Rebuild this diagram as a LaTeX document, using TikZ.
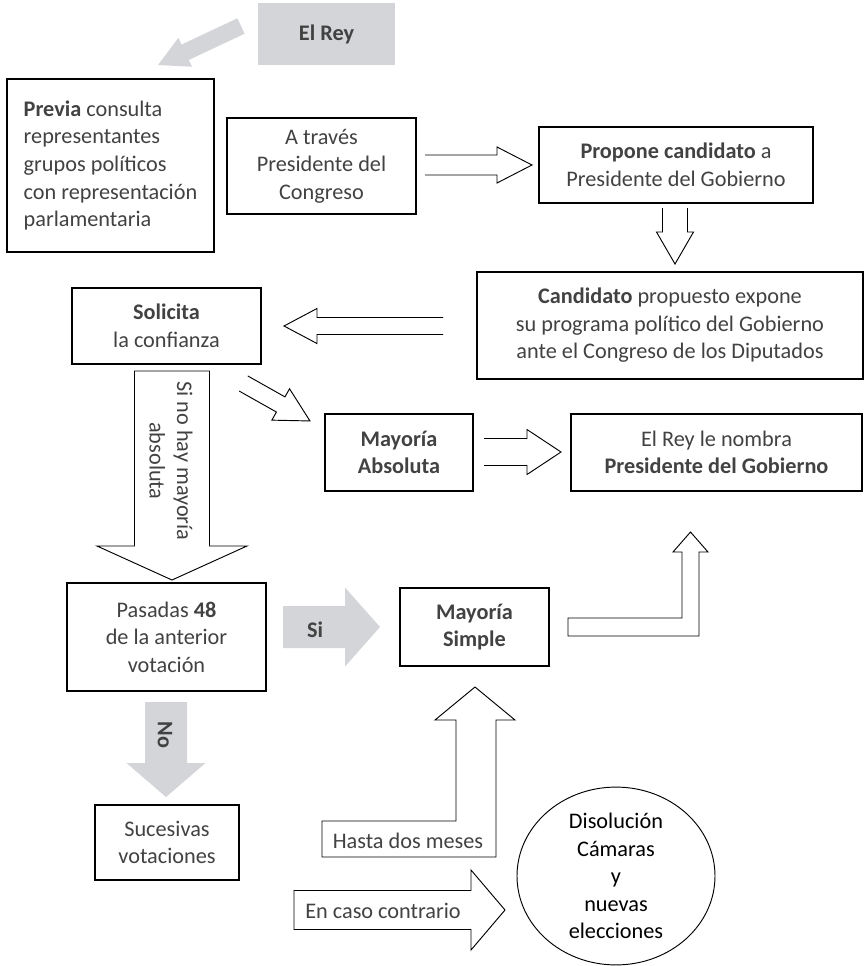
\documentclass[tikz,border=0pt]{standalone}
\usepackage{fontspec}
\setmainfont{Carlito}
\usetikzlibrary{positioning,shapes.geometric}
\definecolor{boxgray}{RGB}{212,213,216}
\definecolor{inkgray}{RGB}{66,66,66}
\newcommand{\px}{0.03cm}
\newcommand{\bodyfont}{\fontsize{19}{23.5}\selectfont}
\tikzset{
  caja/.style={draw, line width=1pt, fill=white, text=inkgray, align=center, inner sep=0pt},
  greybox/.style={fill=boxgray, text=inkgray, inner sep=0pt, font=\bodyfont\bfseries},
  label/.style={text=inkgray, inner sep=0pt, align=center},
  pics/hollow/.style n args={4}{code={
    \draw[line width=0.8pt, fill=white] (0,#2) -- ({#1-#4},#2) -- ({#1-#4},#3) -- (#1,0)
      -- ({#1-#4},-#3) -- ({#1-#4},-#2) -- (0,-#2);
  }},
  pics/blockarrow/.style n args={4}{code={
    \path[pic actions] (0,#2) -- ({#1-#4},#2) -- ({#1-#4},#3) -- (#1,0)
      -- ({#1-#4},-#3) -- ({#1-#4},-#2) -- (0,-#2) -- cycle;
  }}
}

\begin{document}
\begin{tikzpicture}[x=\px, y=-\px, font=\bodyfont]
\useasboundingbox (0,0) rectangle (865,966);

% top row
\node[greybox, minimum width=137*\px, minimum height=62*\px] (rey) at (326.5,34) {El Rey};
\pic[fill=boxgray, rotate=205.2] at (241,26) {blockarrow={91.7}{8.5}{16}{30}};
\node[caja, minimum width=207*\px, minimum height=173*\px, align=left] (previa) at (110.5,165.5)
  {\textbf{Previa} consulta\\representantes\\grupos políticos\\con representación\\parlamentaria};
\node[caja, minimum width=189*\px, minimum height=96*\px] (atraves) at (321.5,166) {A través\\Presidente del\\Congreso};
\node[caja, minimum width=274*\px, minimum height=76*\px] (propone) at (676,165) {\textbf{Propone candidato} a\\Presidente del Gobierno};
\pic at (425,165) {hollow={107}{10}{18}{35}};
\pic[rotate=-90] at (675,208) {hollow={56}{12.5}{18.5}{32}};

% debate
\node[caja, minimum width=386*\px, minimum height=107*\px] (candidato) at (670,325.5)
  {\textbf{Candidato} propuesto expone\\su programa político del Gobierno\\ante el Congreso de los Diputados};
\node[caja, minimum width=189*\px, minimum height=76*\px] (solicita) at (166.5,326) {\textbf{Solicita}\\la confianza};
\pic[rotate=180] at (443,326) {hollow={159}{8.5}{17.5}{33}};
\pic[rotate=-29.4] at (243.5,383.5) {hollow={76.3}{8.7}{18}{33.6}};

% primera votacion
\node[caja, minimum width=148*\px, minimum height=77*\px, font=\bodyfont\bfseries] (absoluta) at (399,452.5) {Mayoría\\Absoluta};
\node[caja, minimum width=291*\px, minimum height=77*\px] (nombra) at (716.5,452.5) {El Rey le nombra\\\textbf{Presidente del Gobierno}};
\pic at (484,452) {hollow={77}{13.5}{22.5}{34}};
\pic[draw, line width=0.8pt, fill=white, rotate=-90] at (172,371) {blockarrow={209}{37.5}{75}{34}};
\node[label, rotate=-90] (nohay) at (171,461) {Si no hay mayoría\\absoluta};

% segunda votacion
\node[caja, minimum width=199*\px, minimum height=108*\px] (pasadas) at (166.5,637) {Pasadas \textbf{48}\\de la anterior\\votación};
\node[caja, minimum width=149*\px, minimum height=78*\px, font=\bodyfont\bfseries] (simple) at (474.5,627) {Mayoría\\Simple};
\pic[fill=boxgray] at (283,627) {blockarrow={97}{21}{39.5}{35}};
\node[label, font=\bodyfont\bfseries] (si) at (315,630) {Si};
\draw[line width=0.8pt, fill=white] (568,618) -- (682,618) -- (682,552) -- (673,552) -- (690.5,532)
  -- (708,552) -- (699,552) -- (699,636) -- (568,636) -- cycle;
\pic[fill=boxgray, rotate=-90] at (166,702) {blockarrow={95}{21}{39.5}{34}};
\node[label, font=\bodyfont\bfseries, rotate=-90] (no) at (165,735) {No};
\node[caja, minimum width=144*\px, minimum height=75*\px] (sucesivas) at (167,842.5) {Sucesivas\\votaciones};

% plazo
\draw[line width=0.8pt, fill=white] (322,821) -- (456,821) -- (456,720) -- (435,720) -- (475,687)
  -- (515,720) -- (496,720) -- (496,857) -- (322,857) -- cycle;
\node[label] (hasta) at (408,841) {Hasta dos meses};
\pic[draw, line width=0.8pt, fill=white] at (294,910) {blockarrow={211}{19.5}{40}{34}};
\node[label] (contrario) at (383,911) {En caso contrario};
\node[draw, line width=0.8pt, ellipse, minimum width=198*\px, minimum height=176*\px, inner sep=0pt, align=center] (disolucion) at (616,876)
  {Disolución\\Cámaras\\y\\nuevas\\elecciones};
\end{tikzpicture}
\end{document}
